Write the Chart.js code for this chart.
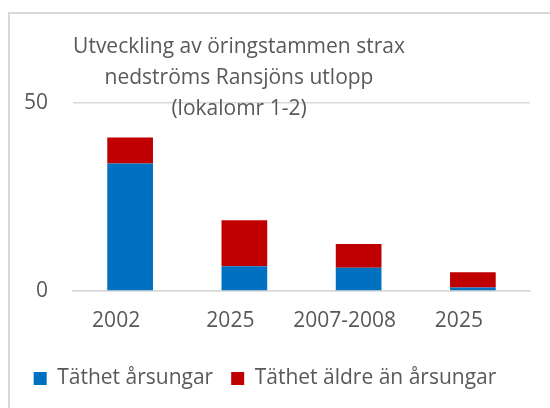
<!DOCTYPE html>
<html>
<head>
<meta charset="utf-8">
<script src="https://cdn.jsdelivr.net/npm/chart.js@4"></script>
<style>
  body { margin: 0; background: #fff; }
  #wrap { position: relative; width: 550px; height: 408px; overflow: hidden; }
  #frame { position: absolute; left: 8px; top: 12px; width: 600px; height: 450px;
           border-left: 2px solid #d9d9d9; border-top: 2px solid #d9d9d9; }
  canvas { position: absolute; left: 0; top: 0; }
</style>
</head>
<body>
<div id="wrap">
  <div id="frame"></div>
  <canvas id="barChart" width="550" height="408"></canvas>
</div>
<script>
// values
var categories = ['2002', '2025', '2007-2008', '2025'];
var arsungar = [33.9, 6.6, 6.2, 0.9];
var aldre = [6.9, 12.2, 6.3, 4.1];
var yTicks = [0, 50];
var titleLines = ['Utveckling av öringstammen strax', 'nedströms Ransjöns utlopp', '(lokalomr 1-2)'];

var fontFamily = '"Open Sans", sans-serif';
var textGray = '#595959';
var gridGray = '#d9d9d9';

// title sits over the plot area in the original, so draw it ourselves
var overlayTitle = {
    id: 'overlayTitle',
    afterDatasetsDraw: function (chart) {
        var ctx = chart.ctx;
        ctx.save();
        ctx.font = '21px ' + fontFamily;
        ctx.fillStyle = textGray;
        ctx.textAlign = 'center';
        ctx.textBaseline = 'alphabetic';
        var baselines = [53, 84, 115];
        titleLines.forEach(function (line, i) {
            ctx.fillText(line, 239, baselines[i]);
        });
        ctx.restore();
    }
};

var ctx = document.getElementById('barChart').getContext('2d');
var barChart = new Chart(ctx, {
    type: 'bar',
    data: {
        labels: categories,
        datasets: [{
            label: 'Täthet årsungar',
            data: arsungar,
            backgroundColor: '#0070C0',
            barPercentage: 0.4,
            categoryPercentage: 1
        },
        {
            label: 'Täthet äldre än årsungar',
            data: aldre,
            backgroundColor: '#C00000',
            barPercentage: 0.4,
            categoryPercentage: 1
        }]
    },
    options: {
        responsive: false,
        animation: false,
        layout: {
            padding: { top: 103, right: 20, left: 0, bottom: 9 }
        },
        scales: {
            x: {
                stacked: true,
                grid: { display: false, drawTicks: false },
                border: { color: gridGray, width: 1.5 },
                ticks: {
                    color: textGray,
                    font: { family: fontFamily, size: 21 },
                    padding: 17,
                    labelOffset: -14
                },
                afterFit: function (scale) { scale.height = 59; }
            },
            y: {
                stacked: true,
                min: yTicks[0],
                max: yTicks[yTicks.length - 1],
                afterBuildTicks: function (scale) {
                    scale.ticks = yTicks.map(function (v) { return { value: v }; });
                },
                grid: { color: gridGray, lineWidth: 1.5, drawTicks: false },
                border: { display: false },
                ticks: {
                    color: textGray,
                    font: { family: fontFamily, size: 21 },
                    padding: 25
                },
                afterFit: function (scale) { scale.width = 73; }
            }
        },
        plugins: {
            title: { display: false },
            tooltip: { enabled: false },
            legend: {
                position: 'bottom',
                labels: {
                    color: textGray,
                    font: { family: fontFamily, size: 21 },
                    boxWidth: 13,
                    boxHeight: 13,
                    padding: 18
                }
            }
        }
    },
    plugins: [overlayTitle]
});
</script>
</body>
</html>
